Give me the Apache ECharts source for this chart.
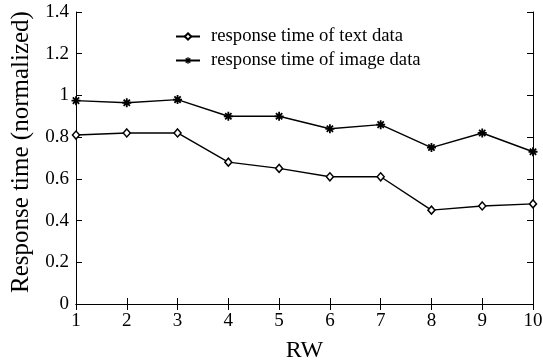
<!DOCTYPE html>
<html><head><meta charset="utf-8">
<script src="https://cdn.jsdelivr.net/npm/echarts@6/dist/echarts.min.js"></script>
<style>html,body{margin:0;padding:0;background:#fff}#c{width:543px;height:360px}</style>
</head><body><div id="c"></div>
<script>
const categories = ['1','2','3','4','5','6','7','8','9','10'];
const textData = [0.81, 0.82, 0.82, 0.68, 0.65, 0.61, 0.61, 0.45, 0.47, 0.48];
const imageData = [0.975, 0.965, 0.98, 0.90, 0.90, 0.84, 0.86, 0.75, 0.82, 0.73];
const seriesNames = ['response time of text data', 'response time of image data'];
const yTitle = 'Response time (normalized)';
const xTitle = 'RW';

const FONT = 'Liberation Serif';
const star = 'path://M-1,-5 L1,-5 L1,-1 L5,-1 L5,1 L1,1 L1,5 L-1,5 L-1,1 L-5,1 L-5,-1 L-1,-1 Z M-4.2,-2.8 L-2.8,-4.2 L4.2,2.8 L2.8,4.2 Z M2.8,-4.2 L4.2,-2.8 L-2.8,4.2 L-4.2,2.8 Z';
const chart = echarts.init(document.getElementById('c'));
const lineAx = {lineStyle:{color:'#000',width:1}};
chart.setOption({
  animation:false,
  textStyle:{fontFamily:FONT},
  grid:{left:76,right:10,top:12,bottom:56,containLabel:false,outerBoundsMode:'none'},
  legend:{
    orient:'vertical', left:170, top:22, itemGap:5, itemWidth:24, itemHeight:8,
    textStyle:{fontFamily:FONT,fontSize:18.7,color:'#000',padding:[0,0,0,6]},
    data:seriesNames
  },
  xAxis:[{
    type:'category', data:categories, boundaryGap:false,
    axisLine:lineAx, axisTick:{inside:true,length:6,lineStyle:{color:'#000'}},
    axisLabel:{color:'#000',fontSize:19,fontFamily:FONT,margin:8},
    splitLine:{show:false},
    name:xTitle, nameLocation:'middle', nameGap:35,
    nameTextStyle:{fontFamily:FONT,fontSize:24,color:'#000'}
  },{
    type:'category', data:categories, boundaryGap:false, position:'top',
    axisLine:lineAx, axisTick:{inside:true,length:6,lineStyle:{color:'#000'}},
    axisLabel:{show:false}, splitLine:{show:false}
  }],
  yAxis:[{
    type:'value', min:0, max:1.4, interval:0.2,
    axisLine:{show:true,...lineAx}, axisTick:{show:true,inside:true,length:6,lineStyle:{color:'#000'}},
    axisLabel:{color:'#000',fontSize:19,fontFamily:FONT,margin:7},
    splitLine:{show:false},
    name:yTitle, nameLocation:'middle', nameGap:41,
    nameTextStyle:{fontFamily:FONT,fontSize:25,color:'#000',padding:[0,0,0,12]}
  },{
    type:'value', min:0, max:1.4, interval:0.2, position:'right',
    axisLine:{show:true,...lineAx}, axisTick:{show:true,inside:true,length:6,lineStyle:{color:'#000'}},
    axisLabel:{show:false}, splitLine:{show:false}
  }],
  series:[{
    name:seriesNames[0], type:'line', data:textData,
    symbol:'diamond', symbolSize:[7,8], showAllSymbol:true,
    itemStyle:{color:'#fff',borderColor:'#000',borderWidth:1.5},
    lineStyle:{color:'#000',width:1.4}
  },{
    name:seriesNames[1], type:'line', data:imageData,
    symbol:star, symbolSize:9, showAllSymbol:true,
    itemStyle:{color:'#000',borderWidth:0},
    lineStyle:{color:'#000',width:1.4}
  }]
});
</script></body></html>
